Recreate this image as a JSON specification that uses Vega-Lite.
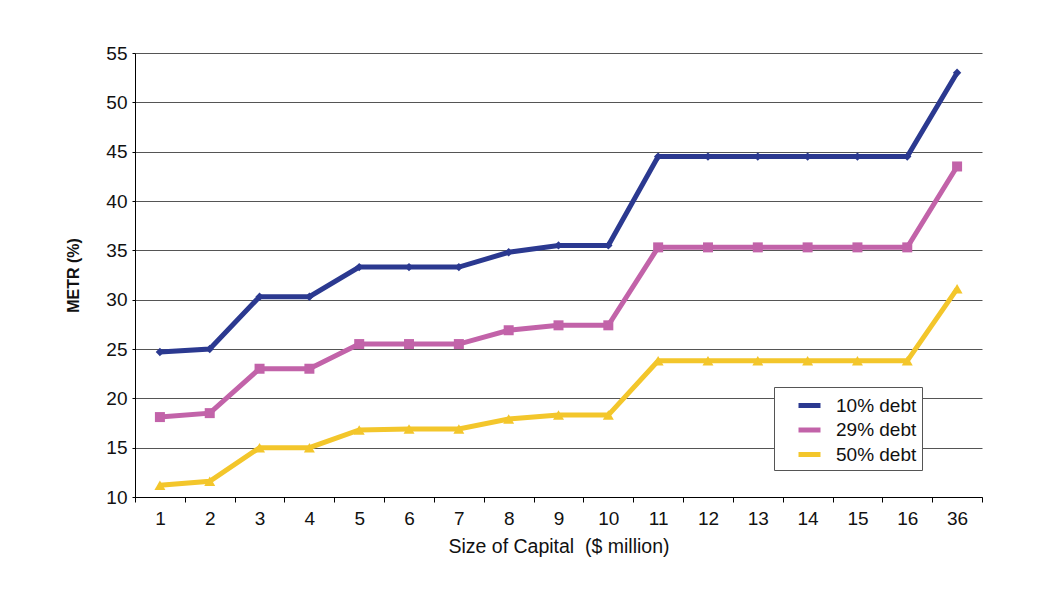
{
  "$schema": "https://vega.github.io/schema/vega-lite/v6.json",
  "width": 847,
  "height": 444,
  "autosize": "none",
  "padding": {"left": 135, "top": 53, "right": 70, "bottom": 92},
  "background": "white",
  "config": {
    "font": "Liberation Sans",
    "view": {"stroke": null},
    "axis": {"labelFont": "Liberation Sans", "titleFont": "Liberation Sans", "labelColor": "#111", "titleColor": "#111"}
  },
  "data": {
    "values": [
      {"cap": "1", "series": "10% debt", "metr": 24.7},
      {"cap": "2", "series": "10% debt", "metr": 25.0},
      {"cap": "3", "series": "10% debt", "metr": 30.3},
      {"cap": "4", "series": "10% debt", "metr": 30.3},
      {"cap": "5", "series": "10% debt", "metr": 33.3},
      {"cap": "6", "series": "10% debt", "metr": 33.3},
      {"cap": "7", "series": "10% debt", "metr": 33.3},
      {"cap": "8", "series": "10% debt", "metr": 34.8},
      {"cap": "9", "series": "10% debt", "metr": 35.5},
      {"cap": "10", "series": "10% debt", "metr": 35.5},
      {"cap": "11", "series": "10% debt", "metr": 44.5},
      {"cap": "12", "series": "10% debt", "metr": 44.5},
      {"cap": "13", "series": "10% debt", "metr": 44.5},
      {"cap": "14", "series": "10% debt", "metr": 44.5},
      {"cap": "15", "series": "10% debt", "metr": 44.5},
      {"cap": "16", "series": "10% debt", "metr": 44.5},
      {"cap": "36", "series": "10% debt", "metr": 53.0},
      {"cap": "1", "series": "29% debt", "metr": 18.1},
      {"cap": "2", "series": "29% debt", "metr": 18.5},
      {"cap": "3", "series": "29% debt", "metr": 23.0},
      {"cap": "4", "series": "29% debt", "metr": 23.0},
      {"cap": "5", "series": "29% debt", "metr": 25.5},
      {"cap": "6", "series": "29% debt", "metr": 25.5},
      {"cap": "7", "series": "29% debt", "metr": 25.5},
      {"cap": "8", "series": "29% debt", "metr": 26.9},
      {"cap": "9", "series": "29% debt", "metr": 27.4},
      {"cap": "10", "series": "29% debt", "metr": 27.4},
      {"cap": "11", "series": "29% debt", "metr": 35.3},
      {"cap": "12", "series": "29% debt", "metr": 35.3},
      {"cap": "13", "series": "29% debt", "metr": 35.3},
      {"cap": "14", "series": "29% debt", "metr": 35.3},
      {"cap": "15", "series": "29% debt", "metr": 35.3},
      {"cap": "16", "series": "29% debt", "metr": 35.3},
      {"cap": "36", "series": "29% debt", "metr": 43.5},
      {"cap": "1", "series": "50% debt", "metr": 11.2},
      {"cap": "2", "series": "50% debt", "metr": 11.6},
      {"cap": "3", "series": "50% debt", "metr": 15.0},
      {"cap": "4", "series": "50% debt", "metr": 15.0},
      {"cap": "5", "series": "50% debt", "metr": 16.8},
      {"cap": "6", "series": "50% debt", "metr": 16.9},
      {"cap": "7", "series": "50% debt", "metr": 16.9},
      {"cap": "8", "series": "50% debt", "metr": 17.9},
      {"cap": "9", "series": "50% debt", "metr": 18.3},
      {"cap": "10", "series": "50% debt", "metr": 18.3},
      {"cap": "11", "series": "50% debt", "metr": 23.8},
      {"cap": "12", "series": "50% debt", "metr": 23.8},
      {"cap": "13", "series": "50% debt", "metr": 23.8},
      {"cap": "14", "series": "50% debt", "metr": 23.8},
      {"cap": "15", "series": "50% debt", "metr": 23.8},
      {"cap": "16", "series": "50% debt", "metr": 23.8},
      {"cap": "36", "series": "50% debt", "metr": 31.1}
    ]
  },
  "encoding": {
    "x": {
      "field": "cap",
      "type": "ordinal",
      "bandPosition": 0.5,
      "scale": {"type": "band", "domain": ["1","2","3","4","5","6","7","8","9","10","11","12","13","14","15","16","36"], "paddingInner": 0, "paddingOuter": 0},
      "axis": {
        "title": "Size of Capital \u00a0($ million)",
        "titleFontSize": 19.5,
        "titleFontWeight": "normal",
        "titlePadding": 9,
        "labelFontSize": 19,
        "labelAngle": 0,
        "labelPadding": 7,
        "tickBand": "extent",
        "tickSize": 5,
        "tickColor": "#000",
        "domainColor": "#000",
        "grid": false
      }
    },
    "y": {
      "field": "metr",
      "type": "quantitative",
      "scale": {"domain": [10, 55], "nice": false, "zero": false},
      "axis": {
        "title": "METR (%)",
        "titleFontSize": 16,
        "titleFontWeight": "bold",
        "titlePadding": 24,
        "values": [10, 15, 20, 25, 30, 35, 40, 45, 50, 55],
        "labelFontSize": 19,
        "labelPadding": 5,
        "tickSize": 3,
        "tickColor": "#000",
        "domainColor": "#000",
        "grid": true,
        "gridColor": "#555",
        "gridWidth": 1,
        "gridOpacity": 1
      }
    }
  },
  "layer": [
    {
      "mark": {"type": "line", "strokeWidth": 5},
      "encoding": {
        "color": {
          "field": "series",
          "type": "nominal",
          "scale": {"domain": ["10% debt", "29% debt", "50% debt"], "range": ["#2B3990", "#C263A9", "#F3C62B"]},
          "legend": {
            "title": null,
            "orient": "none",
            "legendX": 639,
            "legendY": 334,
            "symbolType": "stroke",
            "symbolSize": 484,
            "symbolStrokeWidth": 5,
            "symbolOffset": 17,
            "labelFontSize": 19,
            "labelColor": "#111",
            "labelOffset": 13,
            "labelExpr": "datum.label + '\u00a0\u00a0\u00a0\u00a0'",
            "rowPadding": 0.5,
            "padding": 5,
            "strokeColor": "#555",
            "fillColor": "white"
          }
        }
      }
    },
    {
      "transform": [{"filter": "datum.series === '10% debt'"}],
      "mark": {"type": "point", "filled": true, "opacity": 1, "shape": "diamond", "size": 70, "color": "#2B3990"}
    },
    {
      "transform": [{"filter": "datum.series === '29% debt'"}],
      "mark": {"type": "point", "filled": true, "opacity": 1, "shape": "square", "size": 100, "color": "#C263A9"}
    },
    {
      "transform": [{"filter": "datum.series === '50% debt'"}],
      "mark": {"type": "point", "filled": true, "opacity": 1, "shape": "triangle-up", "size": 120, "color": "#F3C62B"}
    }
  ]
}
